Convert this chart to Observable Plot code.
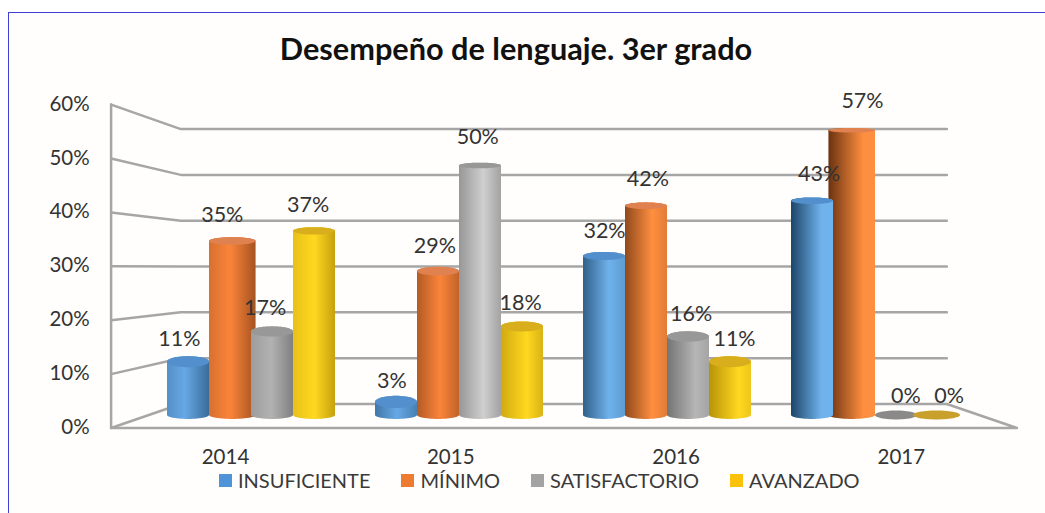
<!DOCTYPE html>
<html lang="es">
<head>
<meta charset="utf-8">
<script src="https://cdn.jsdelivr.net/npm/d3@7"></script>
<script src="https://cdn.jsdelivr.net/npm/@observablehq/plot@0.6"></script>
<style>
  html, body { margin: 0; padding: 0; background: #fff; }
  body { width: 1045px; height: 513px; overflow: hidden; position: relative; font-family: Lato, "Open Sans", sans-serif; color: #333; }
  #frame { position: absolute; left: 8px; top: 12px; right: 0; bottom: 0; background: #fffefc; border-left: 1.5px solid #3f3fd6; border-top: 1.5px solid #3f3fd6; }
  #title { position: absolute; left: 0; top: 0; width: 1032px; height: 84px; line-height: 84px; padding-top: 7px; box-sizing: border-box; text-align: center; font-size: 30.7px; font-weight: 700; color: #111; }
  #chart { position: absolute; left: 0; top: 84px; }
  #chart svg { display: block; background: transparent; }
  #legend { position: absolute; left: 219px; top: 467px; height: 26px; display: flex; align-items: center; font-size: 20px; color: #3a3a3a; white-space: nowrap; }
  #legend span.sw { display: inline-block; width: 13px; height: 13px; margin-right: 6px; }
  #legend span.it { display: inline-flex; align-items: center; margin-right: 31px; }
</style>
</head>
<body>
<div id="frame"></div>
<div id="title">Desempeño de lenguaje. 3er grado</div>
<div id="chart"></div>
<div id="legend"></div>
<script>
const years = ["2014", "2015", "2016", "2017"];
const seriesNames = ["INSUFICIENTE", "MÍNIMO", "SATISFACTORIO", "AVANZADO"];
const insuficiente = [11, 3, 32, 43];
const minimo = [35, 29, 42, 57];
const satisfactorio = [17, 50, 16, 0];
const avanzado = [37, 18, 11, 0];
const yTicks = [0, 10, 20, 30, 40, 50, 60];

const seriesValues = [insuficiente, minimo, satisfactorio, avanzado];
const darks = ["#1c4468", "#6b3210", "#5e5e5e", "#a07c00"];
const lights = [
  ["#66a8e6", "#66a8e6", "#6fb2ec", "#6fb2ec"],
  ["#fb843a", "#fb843a", "#ff8f40", "#ff8f40"],
  ["#b2b2b2", "#cfcfcf", "#b6b6b6", "#cfcfcf"],
  ["#ffd820", "#ffd820", "#ffd820", "#ffd820"]
];
const caps = ["#528fcc", "#e08250", "#989898", "#d8ae1c"];
const flatCaps = ["#528fcc", "#e08250", "#8a8a8a", "#c9a02c"];
const swatches = ["#4f94d8", "#ee7c30", "#a3a3a3", "#fcc10a"];

// Chart scale: one x unit is a category step; y unit is a percentage point.
const pxPerPct = 5.03, barW = 0.2019;
const baseV = 0.4;
const ryOf = v => (v === 0 ? 4.5 : 6.3 - 0.07 * v) / pxPerPct;
const offsets = [-1.5, -0.5, 0.5, 1.5];
// draw order: orange sits behind its neighbours where the 3-D view lets it stick out
const drawOrder = [1, 0, 2, 3];
const flare = {"1-0": [0, 0.022], "1-3": [0.022, 0], "3-3": [0.02, 0.005]};

const rows = [];
const labels = [];
const N = 28;
years.forEach((year, g) => {
  drawOrder.forEach(s => {
    const v = seriesValues[s][g];
    const cx = g + offsets[s] * barW;
    const [fl, fr] = flare[s + "-" + g] || [0, 0];
    const x0 = cx - barW / 2 - fl, x1 = cx + barW / 2 + fr;
    const top = v === 0 ? baseV : v;
    const ryT = ryOf(v), ryB = 4 / pxPerPct;
    const pts = d3.range(N + 1).map(i => {
      const th = Math.PI * (1 - i / N);
      return {x: (x0 + x1) / 2 + (x1 - x0) / 2 * Math.cos(th), k: Math.sin(th)};
    });
    if (v > 0) pts.forEach(p => rows.push({
      id: `side-${g}-${s}`, x: p.x, y1: baseV - ryB * p.k, y2: top + ryT * p.k, fill: `url(#g${g}${s})`
    }));
    pts.forEach(p => rows.push({
      id: `cap-${g}-${s}`, x: p.x, y1: top - ryT * p.k, y2: top + ryT * p.k, fill: v === 0 ? flatCaps[s] : caps[s]
    }));
    const lx = cx + (cx - 1.698) * (cx > 1.698 ? 0.032 : 0.022);
    labels.push({x: lx, y: 4.17 + 1.03 * v, text: v + "%"});
  });
});

// 3-D frame expressed in chart units
const frontV = t => -2.09 + 1.0716 * t;
const backV = t => 2.68 + 0.911 * t;
const frontL = -0.675, frontR = 3.68, backL = -0.34, backR = 3.343;
const wallLines = yTicks.map(t => ({t, pts: [
  {x: frontL, y: frontV(t), t}, {x: backL, y: backV(t), t}, {x: backR, y: backV(t), t}
]})).flatMap(d => d.pts);
const axisLine = [{x: frontL, y: frontV(60)}, {x: frontL, y: frontV(0)}, {x: frontR, y: frontV(0)}, {x: backR, y: backV(0)}];

const defs = () => {
  const d = d3.create("svg:defs");
  years.forEach((_, g) => seriesNames.forEach((_, s) => {
    const mix = d3.interpolateRgb(lights[s][g], darks[s]);
    const h = 0.42 + g * 0.1 + s * 0.03;
    const lg = d.append("linearGradient").attr("id", `g${g}${s}`).attr("x1", 0).attr("x2", 1).attr("y1", 0).attr("y2", 0);
    lg.append("stop").attr("offset", 0).attr("stop-color", mix(0.25 + g * 0.25));
    lg.append("stop").attr("offset", h).attr("stop-color", lights[s][g]);
    lg.append("stop").attr("offset", 1).attr("stop-color", mix(0.6 - g * 0.2));
  }));
  return d.node();
};

const font = 'Lato, "Open Sans", sans-serif';
const plot = Plot.plot({
  width: 1045,
  height: 386,
  margin: 0,
  style: {fontFamily: font, background: "transparent", overflow: "visible"},
  x: {domain: [-1.2067, 3.8173], range: [0, 1045], axis: null},
  y: {domain: [-10.54, 66.2], range: [386, 0], axis: null},
  marks: [
    defs,
    Plot.line(wallLines, {x: "x", y: "y", z: "t", stroke: "#a6a6a6", strokeWidth: 2.5, curve: "linear"}),
    Plot.line(axisLine, {x: "x", y: "y", stroke: "#a6a6a6", strokeWidth: 2.5, curve: "linear"}),
    Plot.area(rows, {x1: "x", y1: "y1", y2: "y2", z: "id", fill: {value: d => d.fill, scale: null}, curve: "linear"}),
    Plot.text(labels, {x: "x", y: "y", text: "text", fontSize: 21.5, fill: "#333", textAnchor: "middle", lineAnchor: "middle"}),
    Plot.text(yTicks, {x: () => -0.778, y: t => frontV(t) + 0.1, text: t => t + "%", fontSize: 20.5, fill: "#333", textAnchor: "end", lineAnchor: "middle"}),
    Plot.text(years, {x: (_, i) => -0.125 + i * 1.083, y: () => -7.95, text: d => d, fontSize: 20.5, fill: "#333", textAnchor: "middle", lineAnchor: "middle"})
  ]
});
document.getElementById("chart").append(plot);

const legend = document.getElementById("legend");
seriesNames.forEach((name, s) => {
  const it = document.createElement("span"); it.className = "it";
  const sw = document.createElement("span"); sw.className = "sw"; sw.style.background = swatches[s];
  it.append(sw, document.createTextNode(name));
  legend.append(it);
});
</script>
</body>
</html>
